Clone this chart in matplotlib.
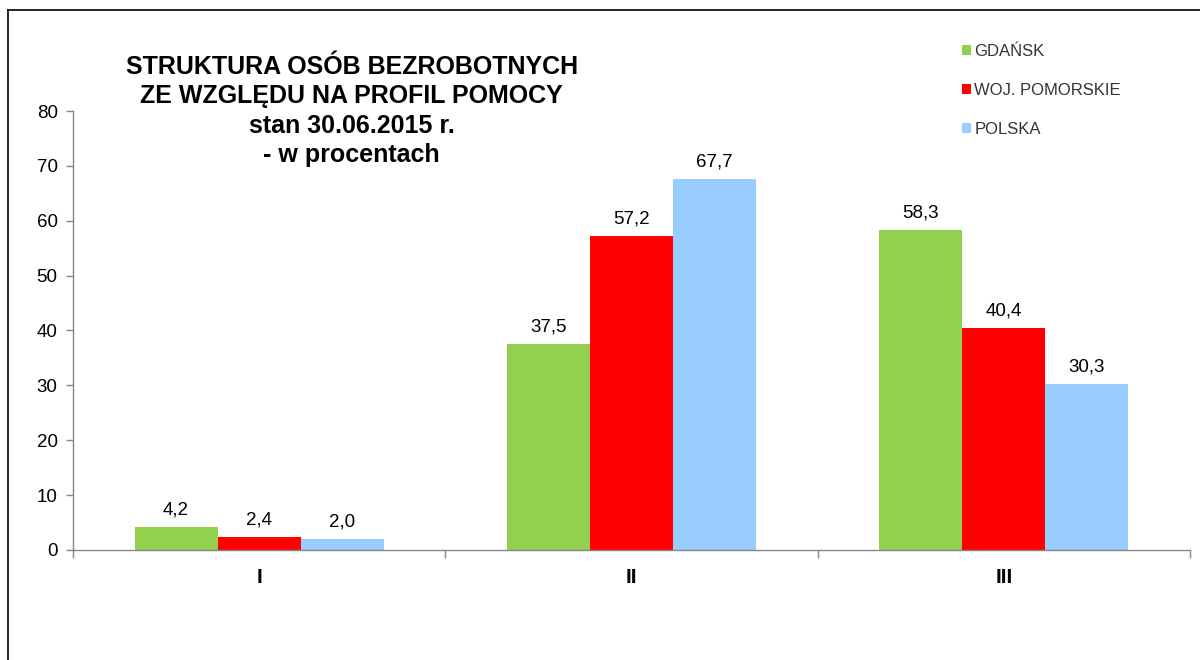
import numpy as np
import matplotlib
matplotlib.use("Agg")
import matplotlib.pyplot as plt
from matplotlib.lines import Line2D
from matplotlib.patches import Patch

plt.rcParams["font.family"] = ["Liberation Sans", "DejaVu Sans"]

# Data
categories = ["I", "II", "III"]
series_names = ["GDAŃSK", "WOJ. POMORSKIE", "POLSKA"]
gdansk = [4.2, 37.5, 58.3]
pomorskie = [2.4, 57.2, 40.4]
polska = [2.0, 67.7, 30.3]
y_ticks = [0, 10, 20, 30, 40, 50, 60, 70, 80]
title_lines = [
    "STRUKTURA OSÓB BEZROBOTNYCH",
    "ZE WZGLĘDU NA PROFIL POMOCY",
    "stan 30.06.2015 r.",
    "- w procentach",
]

colors = ["#92D050", "#FF0000", "#99CCFF"]
axis_col = "#868686"

fig = plt.figure(figsize=(12, 6.6), dpi=100)
ax = fig.add_axes([0.0608, 0.1667, 0.9309, 0.6651])

x = np.arange(len(categories))
w = 0.223
for i, (vals, col, name) in enumerate(zip([gdansk, pomorskie, polska], colors, series_names)):
    bars = ax.bar(x + (i - 1) * w, vals, width=w, color=col, label=name, zorder=2)
    ax.bar_label(bars, labels=[f"{v:.1f}".replace(".", ",") for v in vals],
                 padding=6, fontsize=13.5, color="#000000")

ax.set_xlim(-0.5, 2.5)
ax.set_ylim(0, 80)
ax.set_yticks(y_ticks)
ax.tick_params(axis="y", length=5, width=1, color=axis_col, labelsize=13.5, pad=6)

ax.set_xticks(x)
ax.set_xticklabels(categories, fontsize=15, fontweight="bold")
ax.set_xticks([-0.5, 0.5, 1.5, 2.5], minor=True)
ax.tick_params(axis="x", which="major", length=0, pad=13)
ax.tick_params(axis="x", which="minor", length=6, width=1, color=axis_col)

for s in ["top", "right"]:
    ax.spines[s].set_visible(False)
for s in ["left", "bottom"]:
    ax.spines[s].set_color(axis_col)
    ax.spines[s].set_linewidth(1)

# title block
fig.text(0.293, 0.917, "\n".join(title_lines), ha="center", va="top",
         fontsize=18, fontweight="bold", linespacing=1.29)

# legend
handles = [Patch(facecolor=c, edgecolor="none") for c in colors]
fig.legend(handles, series_names, loc="upper left", bbox_to_anchor=(0.789, 0.956),
           frameon=False, fontsize=12, handlelength=0.55, handleheight=0.55,
           handletextpad=0.2, labelspacing=1.45, labelcolor="#333333")

# figure frame (top and left edge visible in the reference)
fig.add_artist(Line2D([0.007, 0.007], [0.0, 0.985], color="black", lw=1.2,
                      transform=fig.transFigure))
fig.add_artist(Line2D([0.007, 1.0], [0.985, 0.985], color="black", lw=1.2,
                      transform=fig.transFigure))

fig.savefig("out.png", dpi=100)
